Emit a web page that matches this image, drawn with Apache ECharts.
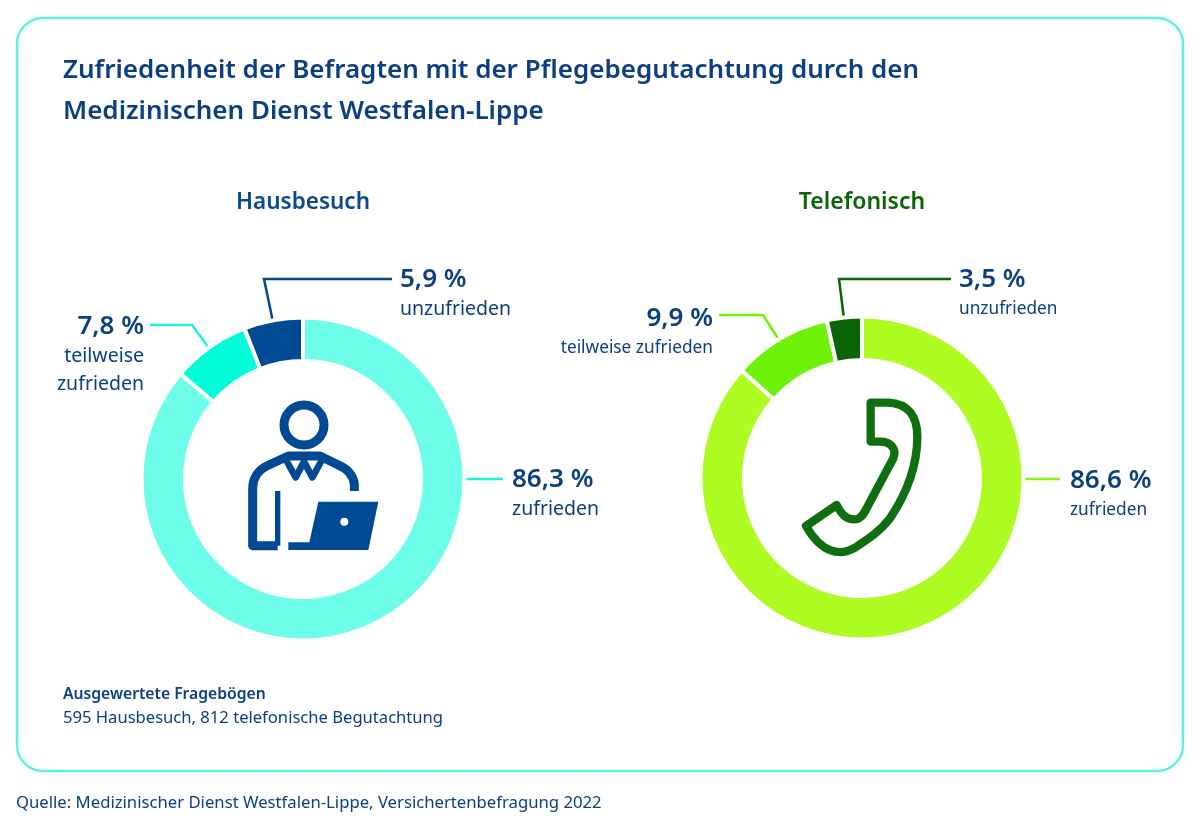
<!DOCTYPE html>
<html>
<head>
<meta charset="utf-8">
<style>html,body{margin:0;padding:0;background:#fff}#main{width:1200px;height:826px}</style>
<script src="https://cdn.jsdelivr.net/npm/echarts@6/dist/echarts.min.js"></script>
</head>
<body>
<div id="main"></div>
<script>
var categories = ['zufrieden', 'teilweise zufrieden', 'unzufrieden'];
var valuesHaus = [86.3, 7.8, 5.9];
var valuesTelefon = [86.6, 9.9, 3.5];
var namesHaus = ['zufrieden', 'teilweise\nzufrieden', 'unzufrieden'];
var namesTelefon = ['zufrieden', 'teilweise zufrieden', 'unzufrieden'];

var colorsHaus = ['#6dfde8', '#00fdd8', '#004a94'];
var colorsTelefon = ['#aefc22', '#6ef20a', '#0a6605'];
var lineHaus = ['#1cf3dc', '#1cf3dc', '#004a94'];
var lineTelefon = ['#8cf01a', '#6ef20a', '#0a6605'];

var navy = '#0b3f82';
var font = '"Noto Sans"';

// Beschriftung: x, y, Ausrichtung, Leitlinie
var layoutHaus = [
  {x: 512, y: 465, align: 'left', line: [[459, 479], [483, 479], [503, 479]]},
  {x: 144, y: 312, align: 'right', line: [[150, 325], [192, 325], [209, 348]]},
  {x: 400, y: 265, align: 'left', line: [[392, 279], [264, 279], [273, 322]]}
];
var layoutTelefon = [
  {x: 1070, y: 466, align: 'left', line: [[1019, 479], [1040, 479], [1060, 479]]},
  {x: 713, y: 304, align: 'right', line: [[719, 315], [763, 315], [779, 340]]},
  {x: 959, y: 265, align: 'left', line: [[951, 279], [839, 279], [844, 319]]}
];

// Icons als eigene Formen
echarts.graphic.registerShape('personBody', echarts.graphic.extendPath('M373 333 L373 312 C370 285 350 265 325 255 L270 228 L175 228 L110 258 C85 270 68 295 68 325 L68 497 L143 497', {}));
echarts.graphic.registerShape('personArm', echarts.graphic.extendPath('M143 497 L143 333', {}));
echarts.graphic.registerShape('personCollar', echarts.graphic.extendPath('M168 240 L197 292 L222 245 L247 292 L276 240', {}));
echarts.graphic.registerShape('personLaptop', echarts.graphic.extendPath('M265 365 L445 365 L415 510 L175 510 L175 487 L238 487 Z', {}));
echarts.graphic.registerShape('phone', echarts.graphic.extendPath('M272 68 L325 68 C385 70 412 110 412 170 C412 260 380 340 330 415 C300 455 260 480 225 503 C180 530 125 520 78 438 L170 375 C185 405 200 418 225 418 C245 418 255 395 265 375 L340 235 C352 205 330 185 300 185 L272 185 Z', {}));

function makePie(center, values, names, colors, lines, layout, nameSize) {
  return {
    type: 'pie',
    center: center,
    radius: [118, 161.5],
    startAngle: 90,
    clockwise: true,
    silent: true,
    itemStyle: {borderColor: '#fff', borderWidth: 4},
    data: values.map(function (v, i) {
      return {
        value: v,
        name: categories[i],
        itemStyle: {color: colors[i]},
        labelLine: {show: true, lineStyle: {color: lines[i], width: 2.5}}
      };
    }),
    label: {
      show: true,
      position: 'outside',
      formatter: function (p) {
        var val = String(p.value).replace('.', ',') + ' %';
        return '{v|' + val + '}\n{n|' + names[p.dataIndex].split('\n').join('}\n{n|') + '}';
      },
      rich: {
        v: {fontFamily: font, fontSize: 26, fontWeight: 600, color: navy, lineHeight: 30},
        n: {fontFamily: font, fontSize: nameSize, color: navy, lineHeight: 28}
      }
    },
    labelLine: {show: true, smooth: false},
    labelLayout: function (p) {
      var l = layout[p.dataIndex];
      return {x: l.x, y: l.y, align: l.align, verticalAlign: 'top', labelLinePoints: l.line};
    }
  };
}

var myChart = echarts.init(document.getElementById('main'));
var option = {
  backgroundColor: '#fff',
  animation: false,
  title: [
    {
      text: 'Zufriedenheit der Befragten mit der Pflegebegutachtung durch den\nMedizinischen Dienst Westfalen-Lippe',
      left: 63, top: 50, padding: 0,
      textStyle: {fontFamily: font, fontSize: 26, fontWeight: 600, color: navy, lineHeight: 41}
    },
    {
      text: 'Hausbesuch',
      left: 303, top: 191, padding: 0, textAlign: 'center',
      textStyle: {fontFamily: font, fontSize: 22.5, fontWeight: 600, color: '#0a4a8c'}
    },
    {
      text: 'Telefonisch',
      left: 862, top: 191, padding: 0, textAlign: 'center',
      textStyle: {fontFamily: font, fontSize: 23, fontWeight: 600, color: '#0a6605'}
    },
    {
      text: 'Ausgewertete Fragebögen',
      left: 63, top: 687, padding: 0,
      textStyle: {fontFamily: font, fontSize: 15.7, fontWeight: 600, color: navy}
    },
    {
      text: '595 Hausbesuch, 812 telefonische Begutachtung',
      left: 63, top: 710, padding: 0,
      textStyle: {fontFamily: font, fontSize: 16.6, fontWeight: 400, color: navy}
    },
    {
      text: 'Quelle: Medizinischer Dienst Westfalen-Lippe, Versichertenbefragung 2022',
      left: 16, top: 795, padding: 0,
      textStyle: {fontFamily: font, fontSize: 16.7, fontWeight: 400, color: navy}
    }
  ],
  graphic: [
    {
      type: 'rect', z: -1,
      shape: {x: 17, y: 18, width: 1166, height: 753, r: 26},
      style: {fill: '#fff', stroke: '#5cf3e0', lineWidth: 2.5}
    },
    // Person mit Laptop
    {
      type: 'group', x: 230, y: 380, scaleX: 1 / 3, scaleY: 1 / 3,
      children: [
        {
          type: 'circle',
          shape: {cx: 222, cy: 135, r: 60},
          style: {fill: 'none', stroke: '#004a94', lineWidth: 27}
        },
        {
          type: 'personBody',
          style: {fill: 'none', stroke: '#004a94', lineWidth: 27, lineJoin: 'round'}
        },
        {
          type: 'personArm',
          style: {fill: 'none', stroke: '#004a94', lineWidth: 16}
        },
        {
          type: 'personCollar',
          style: {fill: 'none', stroke: '#004a94', lineWidth: 20, lineJoin: 'round'}
        },
        {
          type: 'personLaptop',
          style: {fill: '#004a94'}
        },
        {
          type: 'circle',
          shape: {cx: 343, cy: 425, r: 12},
          style: {fill: '#fff'}
        }
      ]
    },
    // Telefonhoerer
    {
      type: 'group', x: 780, y: 380, scaleX: 1 / 3, scaleY: 1 / 3,
      children: [
        {
          type: 'phone',
          style: {fill: 'none', stroke: '#0f6e0f', lineWidth: 25, lineJoin: 'round'}
        }
      ]
    }
  ],
  series: [
    makePie(['303', '479'], valuesHaus, namesHaus, colorsHaus, lineHaus, layoutHaus, 19.5),
    makePie(['862', '478'], valuesTelefon, namesTelefon, colorsTelefon, lineTelefon, layoutTelefon, 17.3)
  ]
};
myChart.setOption(option);
</script>
</body>
</html>
